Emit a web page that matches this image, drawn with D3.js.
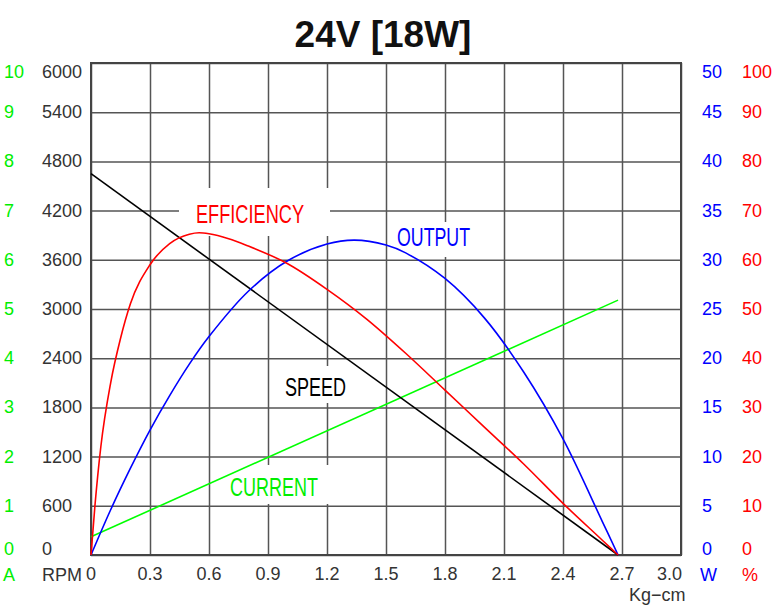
<!DOCTYPE html>
<html>
<head>
<meta charset="utf-8">
<script src="https://cdn.jsdelivr.net/npm/d3@7"></script>
<style>
  html, body { margin: 0; padding: 0; background: #fff; }
  svg { display: block; }
  text { font-family: "Liberation Sans", Arial, sans-serif; }
</style>
</head>
<body>
<svg id="chart" width="776" height="611"></svg>
<script>
// ---------- data ----------
const title = "24V [18W]";
const xTicks = [0, 0.3, 0.6, 0.9, 1.2, 1.5, 1.8, 2.1, 2.4, 2.7, 3.0];
const xTickLabels = ["0", "0.3", "0.6", "0.9", "1.2", "1.5", "1.8", "2.1", "2.4", "2.7", "3.0"];
const rpmTicks = [0, 600, 1200, 1800, 2400, 3000, 3600, 4200, 4800, 5400, 6000];
const ampTicks = [0, 1, 2, 3, 4, 5, 6, 7, 8, 9, 10];
const wattTicks = [0, 5, 10, 15, 20, 25, 30, 35, 40, 45, 50];
const pctTicks = [0, 10, 20, 30, 40, 50, 60, 70, 80, 90, 100];

// efficiency curve: torque (Kg-cm) -> %
const effTorque = [0, 0.02, 0.05, 0.1, 0.15, 0.2, 0.3, 0.4, 0.5, 0.55, 0.6, 0.7, 0.8, 1.0, 1.2, 1.4, 1.6, 1.8, 2.0, 2.2, 2.4, 2.6, 2.68];
const efficiency = [0, 10, 22, 35, 44, 51, 59, 63.3, 65.2, 65.5, 65.3, 64.3, 62.8, 59.2, 54, 48, 41, 33.5, 26, 18.5, 10.5, 3, 0];
// output curve: torque (Kg-cm) -> W
const outTorque = [0, 0.1, 0.2, 0.3, 0.4, 0.5, 0.6, 0.8, 1.0, 1.2, 1.34, 1.5, 1.6, 1.8, 2.0, 2.2, 2.4, 2.6, 2.68];
const output = [0, 4.6, 8.8, 12.7, 16.2, 19.4, 22.2, 26.8, 29.9, 31.6, 32.0, 31.5, 30.7, 28.1, 24.1, 18.6, 11.8, 3.4, 0];
// straight lines
const lineTorque = [0, 2.68];
const speed = [4650, 0];     // RPM
const current = [0.37, 5.18]; // A

// ---------- layout ----------
const svg = d3.select("#chart");
const L = 91, R = 681, T = 63, B = 555;

const x = d3.scaleLinear().domain([0, 3]).range([L, R]);
const yRpm = d3.scaleLinear().domain([0, 6000]).range([B, T]);
const yA = d3.scaleLinear().domain([0, 10]).range([B, T]);
const yW = d3.scaleLinear().domain([0, 50]).range([B, T]);
const yP = d3.scaleLinear().domain([0, 100]).range([B, T]);

const gridColor = "#555";
const labelColor = "#333";

// grid via axes
svg.append("g")
  .attr("transform", `translate(0,${B})`)
  .call(d3.axisBottom(x).tickValues(xTicks).tickSize(-(B - T)).tickFormat(""))
  .call(g => g.select(".domain").remove())
  .call(g => g.selectAll("line").attr("stroke", gridColor).attr("stroke-width", 1.5));
svg.append("g")
  .attr("transform", `translate(${L},0)`)
  .call(d3.axisLeft(yRpm).tickValues(rpmTicks).tickSize(-(R - L)).tickFormat(""))
  .call(g => g.select(".domain").remove())
  .call(g => g.selectAll("line").attr("stroke", gridColor).attr("stroke-width", 1.5));

// curve labels with white backgrounds (break the grid)
const curveLabels = [
  { text: "EFFICIENCY", x: 196, y: 223, w: 108, color: "#ff0000", box: [179, 188, 151, 48] },
  { text: "OUTPUT", x: 397, y: 246, w: 73, color: "#0000ff", box: [388, 222, 92, 35] },
  { text: "SPEED", x: 285, y: 396, w: 61, color: "#000000", box: [274, 366, 82, 37] },
  { text: "CURRENT", x: 230, y: 496, w: 88, color: "#00ee00", box: [220, 465, 118, 39] }
];
svg.append("g").selectAll("rect").data(curveLabels).join("rect")
  .attr("x", d => d.box[0]).attr("y", d => d.box[1])
  .attr("width", d => d.box[2]).attr("height", d => d.box[3])
  .attr("fill", "#fff");

// border
svg.append("rect").attr("x", L).attr("y", T).attr("width", R - L).attr("height", B - T)
  .attr("fill", "none").attr("stroke", "#444").attr("stroke-width", 2);

// labels text
svg.append("g").selectAll("text").data(curveLabels).join("text")
  .attr("x", d => d.x).attr("y", d => d.y)
  .attr("font-size", 25)
  .attr("textLength", d => d.w).attr("lengthAdjust", "spacingAndGlyphs")
  .attr("fill", d => d.color)
  .text(d => d.text);

// curves
const pts = (xs, ys) => xs.map((t, i) => [t, ys[i]]);
const line = (yScale, c) => d3.line().x(d => x(d[0])).y(d => yScale(d[1])).curve(c);

svg.append("path").datum(pts(lineTorque, current))
  .attr("d", line(yA, d3.curveLinear)).attr("fill", "none").attr("stroke", "#00ff00").attr("stroke-width", 1.6);
svg.append("path").datum(pts(lineTorque, speed))
  .attr("d", line(yRpm, d3.curveLinear)).attr("fill", "none").attr("stroke", "#000").attr("stroke-width", 1.6);
svg.append("path").datum(pts(outTorque, output))
  .attr("d", line(yW, d3.curveCatmullRom.alpha(0.5))).attr("fill", "none").attr("stroke", "#0000ff").attr("stroke-width", 1.6);
svg.append("path").datum(pts(effTorque, efficiency))
  .attr("d", line(yP, d3.curveMonotoneX)).attr("fill", "none").attr("stroke", "#ff0000").attr("stroke-width", 1.6);

// title
svg.append("text").attr("x", 383).attr("y", 47).attr("text-anchor", "middle")
  .attr("font-size", 37).attr("font-weight", "bold").attr("fill", "#111").text(title);

// y tick labels
const fs = 18;
const yLab = (v, scale) => {
  const y = scale(v);
  if (Math.abs(y - T) < 1) return y + 8.5;
  if (Math.abs(y - B) < 1) return y - 6.5;
  return y;
};
function yLabels(ticks, scale, xPos, color) {
  svg.append("g").selectAll("text").data(ticks).join("text")
    .attr("x", xPos).attr("y", d => yLab(d, scale))
    .attr("dominant-baseline", "central")
    .attr("font-size", fs).attr("fill", color)
    .text(d => d);
}
yLabels(ampTicks, yA, 4, "#00ee00");
yLabels(rpmTicks, yRpm, 42, labelColor);
yLabels(wattTicks, yW, 702, "#0000ff");
yLabels(pctTicks, yP, 742, "#ff0000");

// x tick labels
const yBottom = 574;
svg.append("g").selectAll("text").data(xTicks).join("text")
  .attr("x", (d, i) => i === xTicks.length - 1 ? R + 1 : x(d))
  .attr("y", yBottom)
  .attr("dominant-baseline", "central")
  .attr("text-anchor", (d, i) => i === xTicks.length - 1 ? "end" : "middle")
  .attr("font-size", fs).attr("fill", labelColor)
  .text((d, i) => xTickLabels[i]);

// unit labels
const units = [
  { t: "A", x: 3, c: "#00ee00" },
  { t: "RPM", x: 42, c: labelColor },
  { t: "W", x: 700, c: "#0000ff" },
  { t: "%", x: 742, c: "#ff0000" }
];
svg.append("g").selectAll("text").data(units).join("text")
  .attr("x", d => d.x).attr("y", yBottom + 1)
  .attr("dominant-baseline", "central")
  .attr("font-size", fs).attr("fill", d => d.c).text(d => d.t);

svg.append("text").attr("x", 629).attr("y", 601).attr("font-size", fs)
  .attr("fill", labelColor).text("Kg\u2212cm");
</script>
</body>
</html>
